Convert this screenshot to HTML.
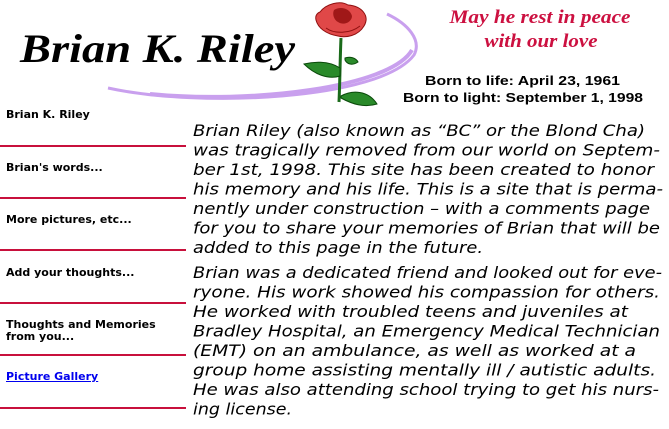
<!DOCTYPE html>
<html><head><meta charset="utf-8"><style>
html,body{margin:0;padding:0;background:#fff;width:669px;height:429px;overflow:hidden;position:relative}
.nav{position:absolute;left:6px;font:bold 11px "DejaVu Sans","Liberation Sans",sans-serif;color:#000;line-height:12px}
.hr{position:absolute;left:0;width:186px;height:2px;background:#c8103c}
</style></head><body>
<svg width="669" height="429" style="position:absolute;left:0;top:0">
<path d="M108,88 C200,108 380,100 414,55 C422,40 408,24 387,14" fill="none" stroke="#c9a0ee" stroke-width="3"/>
<path d="M150,94 C250,104 390,88 412,50" fill="none" stroke="#c9a0ee" stroke-width="4"/>
<text x="20" y="62" font-family="Liberation Serif,serif" font-weight="bold" font-style="italic" font-size="40" textLength="275" lengthAdjust="spacingAndGlyphs">Brian K. Riley</text>
<!-- rose -->
<path d="M341,38 C340,60 340,80 339,102" stroke="#1a6b1a" stroke-width="3" fill="none"/>
<path d="M340,68 C328,60 312,62 304,64 C314,74 328,80 340,76Z" fill="#2a8a2a" stroke="#0a4a0a"/>
<path d="M341,96 C352,90 368,90 377,104 C364,108 352,104 341,98Z" fill="#2a8a2a" stroke="#0a4a0a"/>
<path d="M345,58 C350,56 356,58 358,62 C352,66 347,64 345,60Z" fill="#2a8a2a" stroke="#0a4a0a"/>
<path d="M320,12 C326,4 340,0 348,5 C362,6 370,16 364,26 C358,36 346,38 338,36 C326,34 318,28 316,20 C315,16 317,13 320,12Z" fill="#e04848" stroke="#901010"/>
<path d="M334,10 C340,6 350,8 352,16 C352,22 344,26 338,22 C334,20 332,14 334,10Z" fill="#a01818"/>
<path d="M326,28 C334,34 350,34 360,26" fill="none" stroke="#901010"/>
<text x="540" y="23" text-anchor="middle" font-family="Liberation Serif,serif" font-weight="bold" font-style="italic" font-size="19" fill="#cc1040" textLength="181" lengthAdjust="spacingAndGlyphs">May he rest in peace</text>
<text x="541" y="47" text-anchor="middle" font-family="Liberation Serif,serif" font-weight="bold" font-style="italic" font-size="19" fill="#cc1040" textLength="113" lengthAdjust="spacingAndGlyphs">with our love</text>
<g font-family="Liberation Sans,sans-serif" font-size="13" font-weight="bold">
<text x="425" y="85" textLength="195" lengthAdjust="spacingAndGlyphs">Born to life:  April 23, 1961</text>
<text x="403" y="102" textLength="240" lengthAdjust="spacingAndGlyphs">Born to light:  September 1, 1998</text>
</g>
<g font-family="DejaVu Sans,Liberation Sans,sans-serif" font-style="italic" font-size="16">
<text x="193" y="136" textLength="452" lengthAdjust="spacingAndGlyphs">Brian Riley (also known as “BC” or the Blond Cha)</text>
<text x="193" y="155.5" textLength="467" lengthAdjust="spacingAndGlyphs">was tragically removed from our world on Septem-</text>
<text x="193" y="175" textLength="461" lengthAdjust="spacingAndGlyphs">ber 1st, 1998.  This site has been created to honor</text>
<text x="193" y="194.5" textLength="470" lengthAdjust="spacingAndGlyphs">his memory and his life.  This is a site that is perma-</text>
<text x="193" y="214" textLength="457" lengthAdjust="spacingAndGlyphs">nently under construction – with a comments page</text>
<text x="193" y="233.5" textLength="467" lengthAdjust="spacingAndGlyphs">for you to share your memories of Brian that will be</text>
<text x="193" y="253" textLength="290" lengthAdjust="spacingAndGlyphs">added to this page in the future.</text>
<text x="193" y="278" textLength="469" lengthAdjust="spacingAndGlyphs">Brian was a dedicated friend and looked out for eve-</text>
<text x="193" y="297.5" textLength="467" lengthAdjust="spacingAndGlyphs">ryone.  His work showed his compassion for others.</text>
<text x="193" y="317" textLength="435" lengthAdjust="spacingAndGlyphs">He worked with troubled teens and juveniles at</text>
<text x="193" y="336.5" textLength="467" lengthAdjust="spacingAndGlyphs">Bradley Hospital, an Emergency Medical Technician</text>
<text x="193" y="356" textLength="443" lengthAdjust="spacingAndGlyphs">(EMT) on an ambulance, as well as worked at a</text>
<text x="193" y="375.5" textLength="463" lengthAdjust="spacingAndGlyphs">group home assisting mentally ill / autistic adults.</text>
<text x="193" y="395" textLength="466" lengthAdjust="spacingAndGlyphs">He was also attending school trying to get his nurs-</text>
<text x="193" y="414.5" textLength="99" lengthAdjust="spacingAndGlyphs">ing license.</text>
</g>
</svg>
<div class="nav" style="top:109px">Brian K. Riley</div>
<div class="hr" style="top:145px"></div>
<div class="nav" style="top:162px">Brian's words...</div>
<div class="hr" style="top:197px"></div>
<div class="nav" style="top:214px">More pictures, etc...</div>
<div class="hr" style="top:249px"></div>
<div class="nav" style="top:267px">Add your thoughts...</div>
<div class="hr" style="top:302px"></div>
<div class="nav" style="top:319px">Thoughts and Memories<br>from you...</div>
<div class="hr" style="top:354px"></div>
<div class="nav" style="top:371px;color:#0000ee;text-decoration:underline">Picture Gallery</div>
<div class="hr" style="top:407px"></div>
</body></html>
